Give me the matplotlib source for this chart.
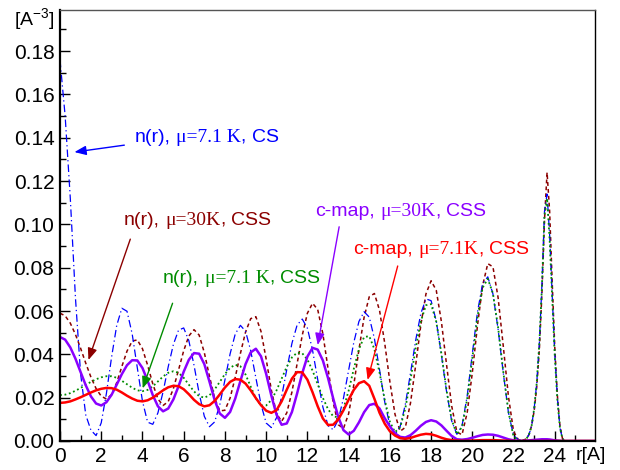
import numpy as np
import matplotlib
matplotlib.use("Agg")
import matplotlib.pyplot as plt
from matplotlib.offsetbox import TextArea, HPacker, AnnotationBbox
from matplotlib.ticker import MultipleLocator, FormatStrFormatter

# sample positions r [A]
r = [0.0, 0.25, 0.5, 0.75, 1.0, 1.25, 1.5, 1.75,
     2.0, 2.25, 2.5, 2.75, 3.0, 3.25, 3.5, 3.75,
     4.0, 4.25, 4.5, 4.75, 5.0, 5.25, 5.5, 5.75,
     6.0, 6.25, 6.5, 6.75, 7.0, 7.25, 7.5, 7.75,
     8.0, 8.25, 8.5, 8.75, 9.0, 9.25, 9.5, 9.75,
     10.0, 10.25, 10.5, 10.75, 11.0, 11.25, 11.5, 11.75,
     12.0, 12.25, 12.5, 12.75, 13.0, 13.25, 13.5, 13.75,
     14.0, 14.25, 14.5, 14.75, 15.0, 15.25, 15.5, 15.75,
     16.0, 16.25, 16.5, 16.75, 17.0, 17.25, 17.5, 17.75,
     18.0, 18.25, 18.5, 18.75, 19.0, 19.25, 19.5, 19.75,
     20.0, 20.25, 20.5, 20.75, 21.0, 21.25, 21.5, 21.75,
     22.0, 22.25,
     22.5, 22.625, 22.75, 22.875, 23.0, 23.125, 23.25, 23.375,
     23.5, 23.625, 23.75, 23.875, 24.0, 24.125, 24.25, 24.375, 24.5,
     25.0, 25.5, 25.95]

# n(r), mu=7.1 K, CS
n_cs_71 = [0.176, 0.150, 0.112, 0.066, 0.031, 0.012, 0.005, 0.0025,
           0.0084, 0.0219, 0.0386, 0.0533, 0.0613, 0.0599, 0.0495, 0.0338,
           0.0184, 0.0087, 0.0077, 0.0130, 0.0227, 0.0343, 0.0446, 0.0512,
           0.0522, 0.0463, 0.0350, 0.0220, 0.0114, 0.0066, 0.0088, 0.0167,
           0.0282, 0.0402, 0.0494, 0.0534, 0.0507, 0.0417, 0.0292, 0.0169,
           0.0083, 0.0062, 0.0107, 0.0205, 0.0330, 0.0451, 0.0535, 0.0563,
           0.0521, 0.0419, 0.0284, 0.0157, 0.0071, 0.0052, 0.0099, 0.0198,
           0.0327, 0.0455, 0.0552, 0.0597, 0.0572, 0.0473, 0.0329, 0.0181,
           0.0071, 0.0030, 0.0067, 0.0169, 0.0313, 0.0464, 0.0588, 0.0656,
           0.0648, 0.0554, 0.0398, 0.0228, 0.0092, 0.0031, 0.0070, 0.0208,
           0.0403, 0.0596, 0.0727, 0.0758, 0.0679, 0.0516, 0.0315, 0.0132,
           0.0025, 0.0005,
           0.0002, 0.001, 0.003, 0.007, 0.015, 0.027, 0.045, 0.072,
           0.106, 0.114, 0.095, 0.067, 0.040, 0.020, 0.006, 0.001, 0.0,
           0.0, 0.0, 0.0]

# n(r), mu=30K, CSS
n_css_30 = [0.059, 0.0578, 0.0544, 0.0492, 0.0428, 0.0359, 0.0295, 0.0242,
            0.0207, 0.0194, 0.0214, 0.0269, 0.0344, 0.0415, 0.0461, 0.0467,
            0.0426, 0.0350, 0.0264, 0.0194, 0.0164, 0.0182, 0.0242, 0.0328,
            0.0417, 0.0485, 0.0514, 0.0489, 0.0408, 0.0299, 0.0198, 0.0139,
            0.0142, 0.0198, 0.0294, 0.0404, 0.0503, 0.0565, 0.0574, 0.0506,
            0.0378, 0.0236, 0.0127, 0.0091, 0.0130, 0.0226, 0.0356, 0.0488,
            0.0590, 0.0636, 0.0607, 0.0495, 0.0335, 0.0178, 0.0075, 0.0058,
            0.0126, 0.0259, 0.0422, 0.0571, 0.0666, 0.0681, 0.0603, 0.0452,
            0.0274, 0.0123, 0.0045, 0.0063, 0.0175, 0.0349, 0.0534, 0.0679,
            0.0740, 0.0696, 0.0551, 0.0352, 0.0161, 0.0041, 0.0029, 0.0131,
            0.0316, 0.0533, 0.0718, 0.0819, 0.0804, 0.0662, 0.0439, 0.0207,
            0.0044, 0.0003,
            0.0005, 0.001, 0.003, 0.007, 0.014, 0.025, 0.042, 0.068,
            0.102, 0.124, 0.106, 0.073, 0.043, 0.021, 0.007, 0.001, 0.0,
            0.0, 0.0, 0.0]

# n(r), mu=7.1 K, CSS
n_css_71 = [0.0212, 0.0214, 0.0221, 0.0232, 0.0245, 0.0259, 0.0273, 0.0285,
            0.0294, 0.0299, 0.0299, 0.0292, 0.0278, 0.0262, 0.0246, 0.0234,
            0.0230, 0.0236, 0.0252, 0.0275, 0.0298, 0.0315, 0.0322, 0.0315,
            0.0292, 0.0260, 0.0229, 0.0207, 0.0200, 0.0211, 0.0238, 0.0273,
            0.0309, 0.0338, 0.0352, 0.0345, 0.0307, 0.0251, 0.0197, 0.0164,
            0.0164, 0.0189, 0.0233, 0.0288, 0.0343, 0.0386, 0.0408, 0.0405,
            0.0376, 0.0325, 0.0262, 0.0199, 0.0147, 0.0114, 0.0109, 0.0150,
            0.0232, 0.0333, 0.0424, 0.0480, 0.0484, 0.0424, 0.0315, 0.0191,
            0.0089, 0.0041, 0.0063, 0.0150, 0.0282, 0.0427, 0.0552, 0.0627,
            0.0632, 0.0551, 0.0403, 0.0234, 0.0097, 0.0031, 0.0065, 0.0194,
            0.0382, 0.0573, 0.0708, 0.0749, 0.0681, 0.0524, 0.0321, 0.0136,
            0.0020, 0.0003,
            0.0003, 0.001, 0.003, 0.007, 0.015, 0.027, 0.045, 0.071,
            0.104, 0.112, 0.093, 0.066, 0.039, 0.019, 0.006, 0.001, 0.0,
            0.0, 0.0, 0.0]

# c-map, mu=30K, CSS
cmap_30 = [0.048, 0.0468, 0.0432, 0.0380, 0.0318, 0.0257, 0.0206, 0.0173,
           0.0164, 0.0179, 0.0213, 0.0260, 0.0309, 0.0350, 0.0373, 0.0372,
           0.0337, 0.0278, 0.0212, 0.0160, 0.0137, 0.0150, 0.0192, 0.0253,
           0.0320, 0.0375, 0.0406, 0.0403, 0.0355, 0.0274, 0.0189, 0.0127,
           0.0107, 0.0134, 0.0196, 0.0277, 0.0355, 0.0409, 0.0426, 0.0391,
           0.0310, 0.0210, 0.0122, 0.0075, 0.0081, 0.0134, 0.0219, 0.0313,
           0.0390, 0.0430, 0.0422, 0.0372, 0.0291, 0.0197, 0.0110, 0.0050,
           0.0030, 0.0047, 0.0086, 0.0133, 0.0166, 0.0172, 0.0150, 0.0105,
           0.0068, 0.0035, 0.0019, 0.0016, 0.0027, 0.0047, 0.0070, 0.0088,
           0.0096, 0.0090, 0.0072, 0.0047, 0.0023, 0.0008, 0.0006, 0.0009,
           0.0015, 0.0022, 0.0028, 0.0030, 0.0029, 0.0024, 0.0016, 0.0008,
           0.0003, 0.0001,
           0.0001, 0.0002, 0.0003, 0.0004, 0.0005, 0.0006, 0.0007, 0.0008,
           0.0008, 0.0008, 0.0007, 0.0005, 0.0003, 0.0002, 0.0001, 0.0, 0.0,
           0.0, 0.0, 0.0]

# c-map, mu=7.1K, CSS
cmap_71 = [0.0176, 0.0178, 0.0183, 0.0192, 0.0202, 0.0213, 0.0224, 0.0234,
           0.0241, 0.0245, 0.0244, 0.0237, 0.0224, 0.0209, 0.0196, 0.0186,
           0.0183, 0.0188, 0.0200, 0.0217, 0.0234, 0.0248, 0.0255, 0.0253,
           0.0239, 0.0216, 0.0190, 0.0170, 0.0160, 0.0165, 0.0185, 0.0215,
           0.0247, 0.0273, 0.0286, 0.0283, 0.0265, 0.0234, 0.0198, 0.0165,
           0.0140, 0.0130, 0.0142, 0.0183, 0.0237, 0.0288, 0.0318, 0.0317,
           0.0283, 0.0225, 0.0160, 0.0104, 0.0074, 0.0075, 0.0100, 0.0142,
           0.0191, 0.0236, 0.0267, 0.0276, 0.0255, 0.0195, 0.0130, 0.0080,
           0.0045, 0.0025, 0.0013, 0.0010, 0.0014, 0.0022, 0.0029, 0.0033,
           0.0031, 0.0024, 0.0015, 0.0008, 0.0004, 0.0002, 0.0001, 0.0001,
           0.0002, 0.0003, 0.0004, 0.0004, 0.0004, 0.0003, 0.0002, 0.0001,
           0.0, 0.0,
           0.0, 0.0, 0.0, 0.0, 0.0, 0.0, 0.0, 0.0,
           0.0, 0.0, 0.0, 0.0, 0.0, 0.0, 0.0, 0.0, 0.0,
           0.0, 0.0, 0.0]

BLUE = "#0000ff"
BROWN = "#8b0000"
GREEN = "#008c00"
VIOLET = "#8a00ff"
RED = "#ff0000"

# label text: (sans head, serif middle, sans tail), colour, text anchor, arrow start, arrow tip
labels = [
    (("n(r),", "\u03bc=7.1 K", "CS"), BLUE, (3.61, 0.1403), (3.12, 0.1366), (0.70, 0.1334)),
    (("n(r),", "\u03bc=30K", "CSS"), BROWN, (3.09, 0.1020), (3.41, 0.0932), (1.38, 0.0374)),
    (("n(r),", "\u03bc=7.1 K", "CSS"), GREEN, (5.00, 0.0751), (5.46, 0.0636), (4.01, 0.0243)),
    (("c-map,", "\u03bc=30K", "CSS"), VIOLET, (12.37, 0.1058), (13.54, 0.0989), (12.50, 0.0443)),
    (("c-map,", "\u03bc=7.1K", "CSS"), RED, (14.23, 0.0882), (16.38, 0.0808), (14.92, 0.0282)),
]

plt.rcParams["font.family"] = "Liberation Sans"
plt.rcParams["mathtext.fontset"] = "custom"
plt.rcParams["mathtext.rm"] = "Liberation Sans"
plt.rcParams["mathtext.it"] = "Liberation Sans:italic"

fig = plt.figure(figsize=(6.2, 4.7), dpi=100)
ax = fig.add_axes([60 / 620, 29 / 470, 535 / 620, 431 / 470])

ax.plot(r, n_css_30, color=BROWN, lw=1.1, linestyle=(0, (2.5, 2)))
ax.plot(r, n_cs_71, color=BLUE, lw=0.9, linestyle=(0, (6, 2.5, 1, 2.5)))
ax.plot(r, n_css_71, color=GREEN, lw=1.3, linestyle=(0, (1, 1.5)))
ax.plot(r, cmap_30, color=VIOLET, lw=1.8)
ax.plot(r, cmap_71, color=RED, lw=1.8)

ax.set_xlim(0, 25.95)
ax.set_ylim(0, 0.199)
ax.xaxis.set_major_locator(MultipleLocator(2))
ax.xaxis.set_minor_locator(MultipleLocator(1))
ax.yaxis.set_major_locator(MultipleLocator(0.02))
ax.yaxis.set_minor_locator(MultipleLocator(0.01))
ax.yaxis.set_major_formatter(FormatStrFormatter("%.2f"))
ax.tick_params(which="both", direction="in", top=False, right=False, labelsize=15, width=1)
ax.tick_params(which="major", length=7, pad=4)
ax.tick_params(which="minor", length=4)

ax.spines["left"].set_linewidth(1.6)
ax.spines["bottom"].set_linewidth(1.6)
ax.spines["top"].set_linewidth(1.0)
ax.spines["top"].set_color("#555555")
ax.spines["right"].set_linewidth(1.0)

for (head, mid, tail), col, anchor, start, tip in labels:
    tp = dict(color=col, fontsize=14)
    mid_box = HPacker(children=[TextArea(mid, textprops=dict(family="Liberation Serif", **tp)),
                                TextArea(",", textprops=dict(family="Liberation Sans", **tp))],
                      sep=0, pad=0, align="baseline")
    box = HPacker(children=[TextArea(head, textprops=dict(family="Liberation Sans", **tp)),
                            mid_box,
                            TextArea(tail, textprops=dict(family="Liberation Sans", **tp))],
                  sep=4, pad=0, align="baseline")
    ax.add_artist(AnnotationBbox(box, anchor, xycoords="data", box_alignment=(0, 0.5),
                                 frameon=False, pad=0))
    ax.annotate("", xy=tip, xytext=start,
                arrowprops=dict(arrowstyle="-|>,head_length=0.5,head_width=0.2",
                                color=col, lw=1, shrinkA=0, shrinkB=0, mutation_scale=14))

fig.text(14 / 620, 1 - 19 / 470, "[A$^{-3}$]", fontsize=14, ha="left", va="center")
fig.text(576 / 620, 1 - 456 / 470, "r[A]", fontsize=14, ha="left", va="center")

fig.savefig("out.png", dpi=100)
